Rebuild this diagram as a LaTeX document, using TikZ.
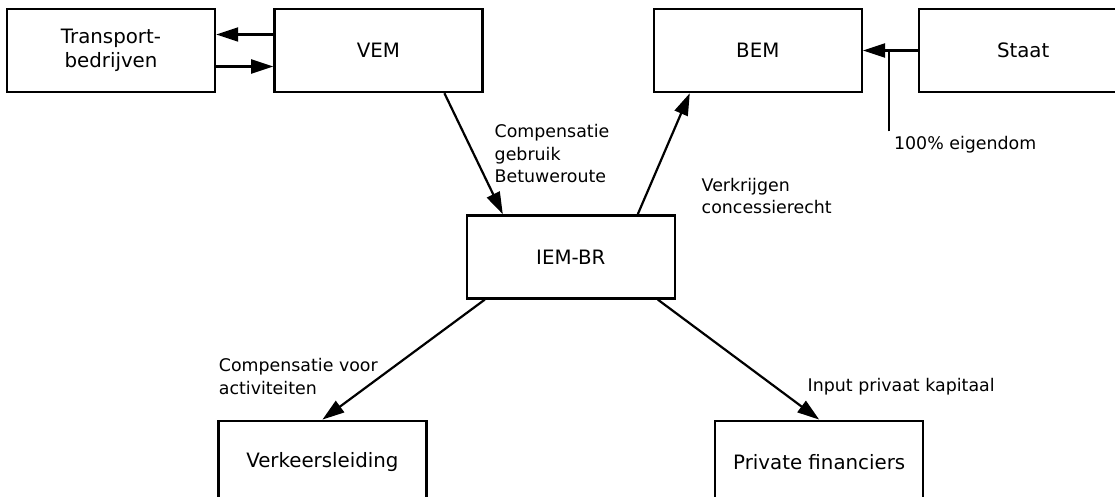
\documentclass[tikz,border=0pt]{standalone}
\usepackage{fontspec}
\setmainfont{DejaVu Sans}
\usetikzlibrary{positioning}
\usetikzlibrary{arrows.meta}

\begin{document}
\begin{tikzpicture}[
boxnode/.style={rectangle, draw=black, line width=1.2pt, minimum width=104pt, minimum height=41.5pt, align=center, font=\fontsize{9.9}{11.7}\selectfont},
labelnode/.style={inner sep=0pt, align=left, font=\fontsize{8.7}{11.3}\selectfont},
line width=1.1pt,
>={Triangle[length=11pt,width=7pt]},
]
\useasboundingbox (-55.5pt,25.25pt) rectangle (502pt,-223.25pt);
%Nodes
%%% Bovenste rij
\node[boxnode]      (transport)  at (0,0) {Transport-\\bedrijven};
\node[boxnode]      (vem)        [right=28.5pt of transport] {VEM};
\node[boxnode]      (bem)        [right=84.5pt of vem] {BEM};
\node[boxnode]      (staat)      [right=27.5pt of bem] {Staat};

%%% Midden
\node[boxnode]      (iembr)      [below right=60.5pt and -9pt of vem] {IEM-BR};

%%% Onderste rij
\node[boxnode]      (verkeer)    [below left=60pt and 19pt of iembr] {Verkeersleiding};
\node[boxnode]      (private)    [below right=60pt and 19pt of iembr] {Private financiers};

%%% Eigendom
\coordinate         (eigendom)   at ([xshift=13pt,yshift=-40.5pt]bem.east);
\node[labelnode]    (eigtekst)   [below right=2pt and 2pt of eigendom] {100\% eigendom};

%Lines
%%% Bovenste rij
\draw[->] ([yshift=8pt]vem.west) -- ([yshift=8pt]transport.east);
\draw[->] ([yshift=-8pt]transport.east) -- ([yshift=-8pt]vem.west);
\draw[->] (staat) -- (bem);
\draw (eigendom) -- (eigendom |- bem.east);

%%% Naar en van IEM-BR
\draw[->] ([xshift=33pt]vem.south) -- ([xshift=-34pt]iembr.north) node[labelnode, midway, right=10pt] {Compensatie\\gebruik\\Betuweroute};
\draw[->] ([xshift=33.5pt]iembr.north) -- ([xshift=-34pt]bem.south) node[labelnode, pos=0.15, right=27.5pt] {Verkrijgen\\concessierecht};
\draw[->] ([xshift=-43pt]iembr.south) -- (verkeer.north) node[labelnode, pos=0.64, left=1pt] {Compensatie voor\\activiteiten};
\draw[->] ([xshift=43.5pt]iembr.south) -- (private.north) node[labelnode, pos=0.73, right=15.5pt] {Input privaat kapitaal};

\end{tikzpicture}
\end{document}
